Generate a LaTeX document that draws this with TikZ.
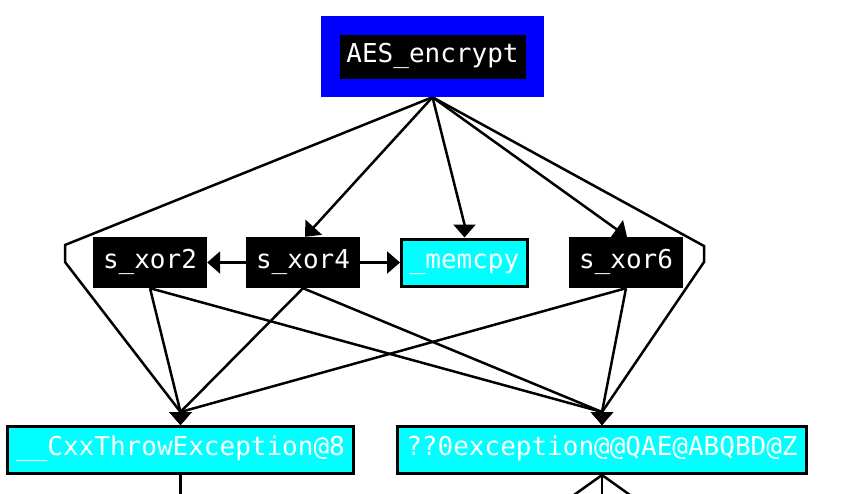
\documentclass[tikz,border=0pt]{standalone}
\usepackage{fontspec}
\newfontfamily\monof{DejaVu Sans Mono}
\usetikzlibrary{arrows.meta,backgrounds}
\definecolor{gvblue}{RGB}{0,0,255}
\definecolor{gvcyan}{RGB}{0,255,255}
\begin{document}
\begin{tikzpicture}[x=1pt,y=-1pt,
  box/.style={rectangle, inner sep=0pt, text=white,
    font=\monof\fontsize{26}{30}\selectfont, text height=19pt, text depth=8pt},
  blk/.style={box, fill=black, minimum width=114pt, minimum height=51pt},
  cyn/.style={box, fill=gvcyan, draw=black, line width=3pt, minimum height=47pt},
  bluebg/.style={rectangle, fill=gvblue, minimum width=223pt, minimum height=81pt, inner sep=0pt},
  edge/.style={line width=2.5pt, line join=miter},
  arr/.style={edge, -{Triangle[width=22pt 0 0,length=13pt 0 0]}}]
\useasboundingbox (0,0) rectangle (861,493);
\clip (0,0) rectangle (861,493);
\node[bluebg] (aesbg) at (432.5,56.5) {};
\node[blk, minimum width=186pt, minimum height=44pt] (aes) at (432.5,57) {AES\_encrypt};
\node[blk] (sxor2) at (150,262.5) {s\_xor2};
\node[blk] (sxor4) at (303,262.5) {s\_xor4};
\node[cyn, minimum width=126pt] (memcpy) at (464.5,262.5) {\_memcpy};
\node[blk] (sxor6) at (626,262.5) {s\_xor6};
\node[cyn, minimum width=346pt] (cxx) at (180.5,450) {\_\_CxxThrowException@8};
\node[cyn, minimum width=409pt] (exc) at (602,450) {??0exception@@QAE@ABQBD@Z};
\coordinate (lb1) at (65,245);
\coordinate (lb2) at (65,262);
\coordinate (rb1) at (704,246);
\coordinate (rb2) at (704,262);
\coordinate (cxxin) at ([yshift=13pt]cxx.north);
\coordinate (excin) at ([yshift=13pt]exc.north);
\coordinate (memin) at ([yshift=13pt]memcpy.north);
\coordinate (d1) at (180.5,500);
\coordinate (d2) at (567,500);
\coordinate (d3) at (602,500);
\coordinate (d4) at (637,500);
\begin{scope}[on background layer]
\draw[arr] (aesbg.south) -- ([xshift=2pt]sxor4.north);
\draw[arr] (aesbg.south) -- (memin) -- (memcpy.north);
\draw[arr] (aesbg.south) -- ([xshift=1pt]sxor6.north);
\draw[arr] (aesbg.south) -- (lb1) -- (lb2) -- (cxxin) -- (cxx.north);
\draw[arr] (aesbg.south) -- (rb1) -- (rb2) -- (excin) -- (exc.north);
\draw[arr] (sxor4.west) -- (sxor2.east);
\draw[arr] (sxor4.east) -- (memcpy.west);
\draw[arr] (sxor2.south) -- (cxxin) -- (cxx.north);
\draw[arr] (sxor2.south) -- (excin) -- (exc.north);
\draw[arr] (sxor4.south) -- (cxxin) -- (cxx.north);
\draw[arr] (sxor4.south) -- (excin) -- (exc.north);
\draw[arr] (sxor6.south) -- (cxxin) -- (cxx.north);
\draw[arr] (sxor6.south) -- (excin) -- (exc.north);
\draw[edge] (cxx.south) -- (d1);
\draw[edge] (exc.south) -- (d2);
\draw[edge] (exc.south) -- (d3);
\draw[edge] (exc.south) -- (d4);
\end{scope}
\end{tikzpicture}
\end{document}
